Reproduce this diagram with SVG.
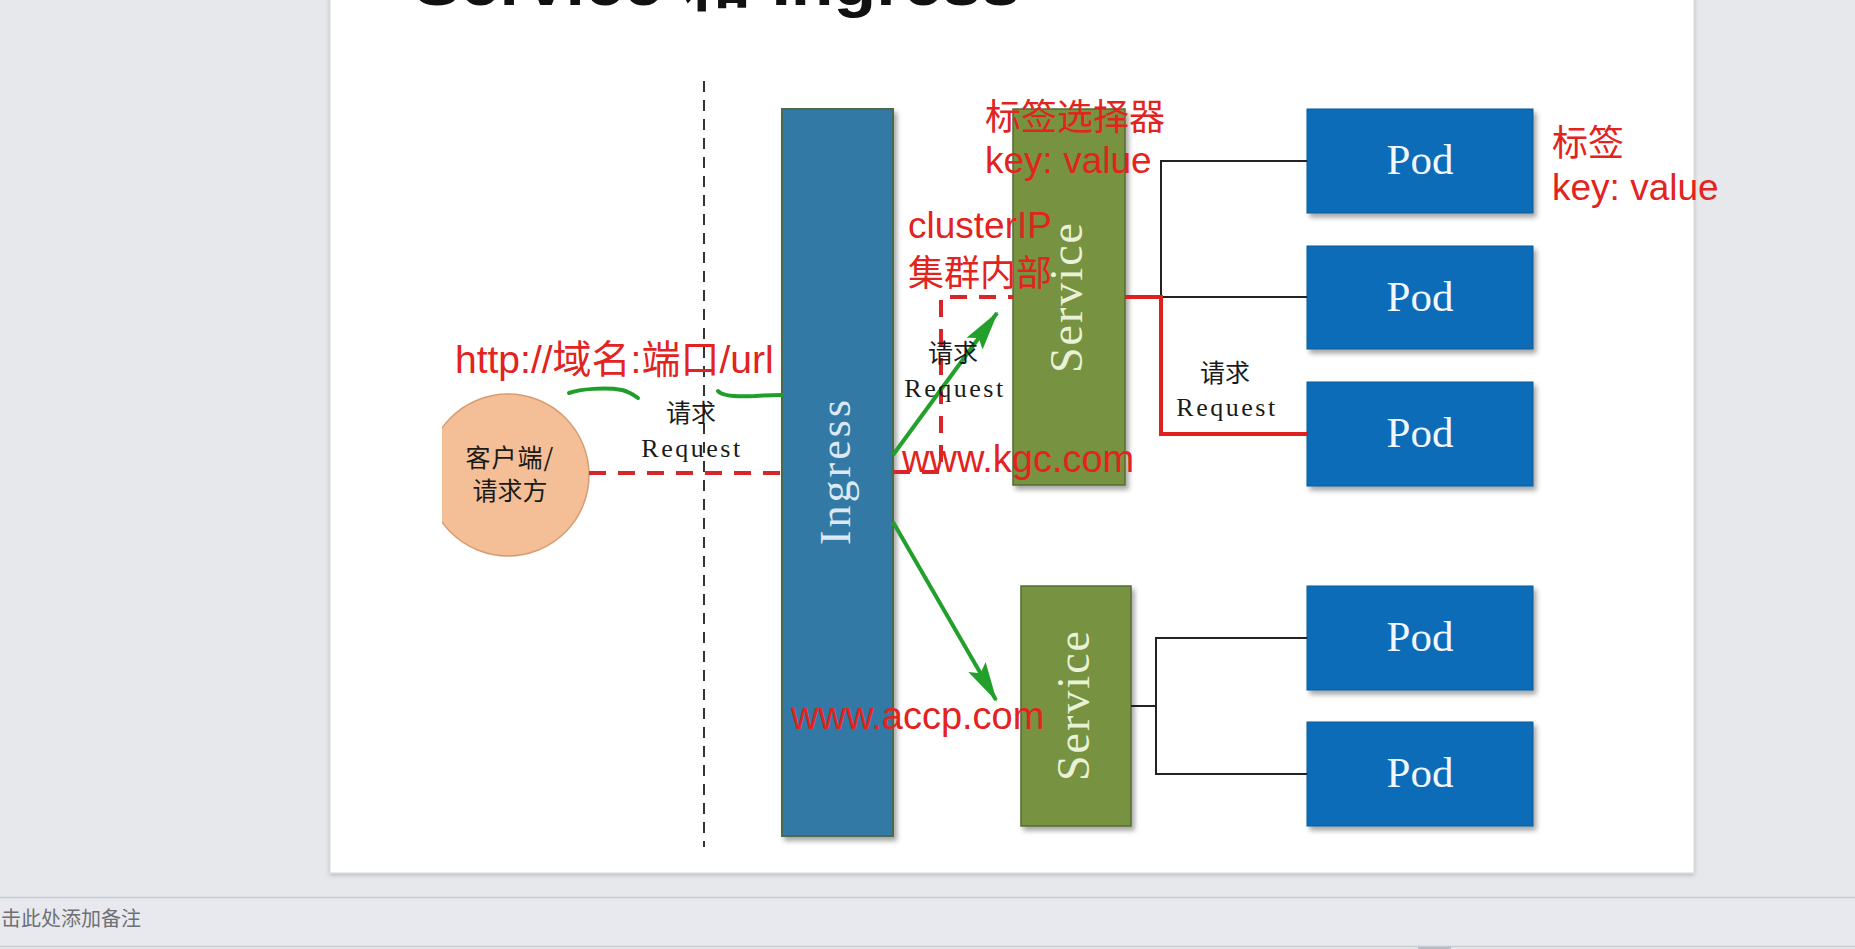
<svg xmlns="http://www.w3.org/2000/svg" width="1855" height="949" viewBox="0 0 1855 949">
<defs>
<style>
.bg{fill:#e6e8eb}
.slide{fill:#ffffff;stroke:#d2d5d9;stroke-width:1}
.pod{fill:#0b6cb7;stroke:#0a5b9b;stroke-width:1;filter:url(#sh)}
.svc{fill:#77923f;stroke:#566b30;stroke-width:1.5;filter:url(#sh)}
.ing{fill:#327aa5;stroke:#4b6a4c;stroke-width:2;filter:url(#sh)}
.podt{fill:#f2f8ff;font-family:"Liberation Serif",serif;font-size:43px;text-anchor:middle}
.svct{fill:#e9f1d6;font-family:"Liberation Serif",serif;font-size:46px;letter-spacing:2px;text-anchor:middle}
.ingt{fill:#dce9f3;font-family:"Liberation Serif",serif;font-size:44px;letter-spacing:3px;text-anchor:middle}
.red{fill:#e2231e;font-family:"Liberation Sans","Noto Sans CJK SC",sans-serif}
.cn{fill:#1a1a1a;font-family:"Noto Sans CJK SC",sans-serif;font-size:25px;text-anchor:middle}
.req{fill:#1a1a1a;font-family:"Liberation Serif",serif;font-size:26px;letter-spacing:2.5px;text-anchor:middle}
.thin{fill:none;stroke:#222;stroke-width:2}
.redl{fill:none;stroke:#e0201c;stroke-width:4}
.dash{fill:none;stroke:#d92428;stroke-width:4;stroke-dasharray:17 12}
.vdash{fill:none;stroke:#333;stroke-width:2;stroke-dasharray:11 8}
.green{fill:none;stroke:#1f9e2a;stroke-width:4;stroke-linecap:round}
.garrow{fill:none;stroke:#22a02b;stroke-width:4;marker-end:url(#ah)}
</style>
<filter id="sh" x="-20%" y="-20%" width="140%" height="140%">
<feDropShadow dx="3" dy="4" stdDeviation="2.5" flood-color="#000" flood-opacity="0.35"/>
</filter>
<filter id="ssh" x="-5%" y="-5%" width="110%" height="110%">
<feDropShadow dx="0" dy="2" stdDeviation="2" flood-color="#000" flood-opacity="0.18"/>
</filter>
<marker id="ah" markerUnits="userSpaceOnUse" markerWidth="44" markerHeight="24" refX="38" refY="12" orient="auto">
<path d="M0,2 L40,12 L0,22 L7,12 z" fill="#22a02b"/>
</marker>
<clipPath id="pic"><rect x="442" y="60" width="1300" height="800"/></clipPath>
</defs>

<rect class="bg" x="0" y="0" width="1855" height="949"/>
<rect class="slide" x="330" y="-10" width="1364" height="883" filter="url(#ssh)"/>

<g id="title">
<text x="414" y="5" font-family="Liberation Sans,'Noto Sans CJK SC',sans-serif" font-weight="bold" font-size="64" fill="#111" textLength="606" lengthAdjust="spacingAndGlyphs">Service 和 Ingress</text>
</g>

<g id="notes">
<rect x="0" y="897" width="1855" height="49" fill="#e7e9ee"/>
<line x1="0" y1="897.5" x2="1855" y2="897.5" stroke="#c7cbd2" stroke-width="1.5"/>
<line x1="0" y1="946.5" x2="1855" y2="946.5" stroke="#c7cbd2" stroke-width="1.5"/>
<rect x="1418" y="947" width="33" height="2" fill="#b9bcc2"/>
<text x="1" y="926" font-family="'Noto Sans CJK SC',sans-serif" font-size="20" fill="#6e7075">击此处添加备注</text>
</g>

<g id="divider">
<line class="vdash" x1="704" y1="81" x2="704" y2="847"/>
</g>

<g id="client" clip-path="url(#pic)">
<circle cx="508" cy="475" r="81" fill="#f4bf96" stroke="#d99b70" stroke-width="1.5"/>
<text class="cn" x="510" y="467" font-size="27" letter-spacing="1">客户端/</text>
<text class="cn" x="510" y="500" font-size="27">请求方</text>
</g>

<g id="ingress">
<rect class="ing" x="782" y="109" width="111" height="727"/>
<text class="ingt" transform="translate(850,471) rotate(-90)">Ingress</text>
</g>

<g id="service1">
<rect class="svc" x="1013" y="109" width="112" height="376"/>
<text class="svct" transform="translate(1082,297) rotate(-90)">Service</text>
</g>

<g id="service2">
<rect class="svc" x="1021" y="586" width="110" height="240"/>
<text class="svct" transform="translate(1089,705) rotate(-90)">Service</text>
</g>

<g id="pod1"><rect class="pod" x="1307" y="109" width="226" height="104"/><text class="podt" x="1420" y="174">Pod</text></g>
<g id="pod2"><rect class="pod" x="1307" y="246" width="226" height="103"/><text class="podt" x="1420" y="311">Pod</text></g>
<g id="pod3"><rect class="pod" x="1307" y="382" width="226" height="104"/><text class="podt" x="1420" y="447">Pod</text></g>
<g id="pod4"><rect class="pod" x="1307" y="586" width="226" height="104"/><text class="podt" x="1420" y="651">Pod</text></g>
<g id="pod5"><rect class="pod" x="1307" y="722" width="226" height="104"/><text class="podt" x="1420" y="787">Pod</text></g>

<g id="connectors">
<path class="thin" d="M1307,161 H1161 V297 H1307"/>
<path class="redl" d="M1125,297 H1161 V434 H1307"/>
<path class="thin" d="M1131,706 H1156"/>
<path class="thin" d="M1307,638 H1156 V774 H1307"/>
<path class="dash" d="M589,473 H782"/>
<path class="dash" d="M893,472 H941 V297 H1013"/>
<line class="garrow" x1="893" y1="455" x2="997" y2="313"/>
<line class="garrow" x1="893" y1="522" x2="996" y2="700"/>
<path class="green" d="M569,393 C580,389 605,387 622,390 C630,392 634,395 638,398"/>
<path class="green" d="M718,391 C722,396 735,397 755,396 C766,395 775,395 782,395"/>
</g>

<g id="labels">
<text class="cn" x="691" y="422">请求</text>
<text class="req" x="692" y="457">Request</text>
<text class="cn" x="953" y="362">请求</text>
<text class="req" x="955" y="397">Request</text>
<text class="cn" x="1225" y="382">请求</text>
<text class="req" x="1227" y="416">Request</text>
<text class="red" x="455" y="373" font-size="39">http://域名:端口/url</text>
<text class="red" x="908" y="238" font-size="37">clusterIP</text>
<text class="red" x="908" y="286" font-size="36">集群内部</text>
<text class="red" x="985" y="130" font-size="36">标签选择器</text>
<text class="red" x="985" y="173" font-size="37">key: value</text>
<text class="red" x="1552" y="156" font-size="36">标签</text>
<text class="red" x="1552" y="200" font-size="37">key: value</text>
<text class="red" x="902" y="472" font-size="38">www.kgc.com</text>
<text class="red" x="791" y="729" font-size="38">www.accp.com</text>
</g>
</svg>
